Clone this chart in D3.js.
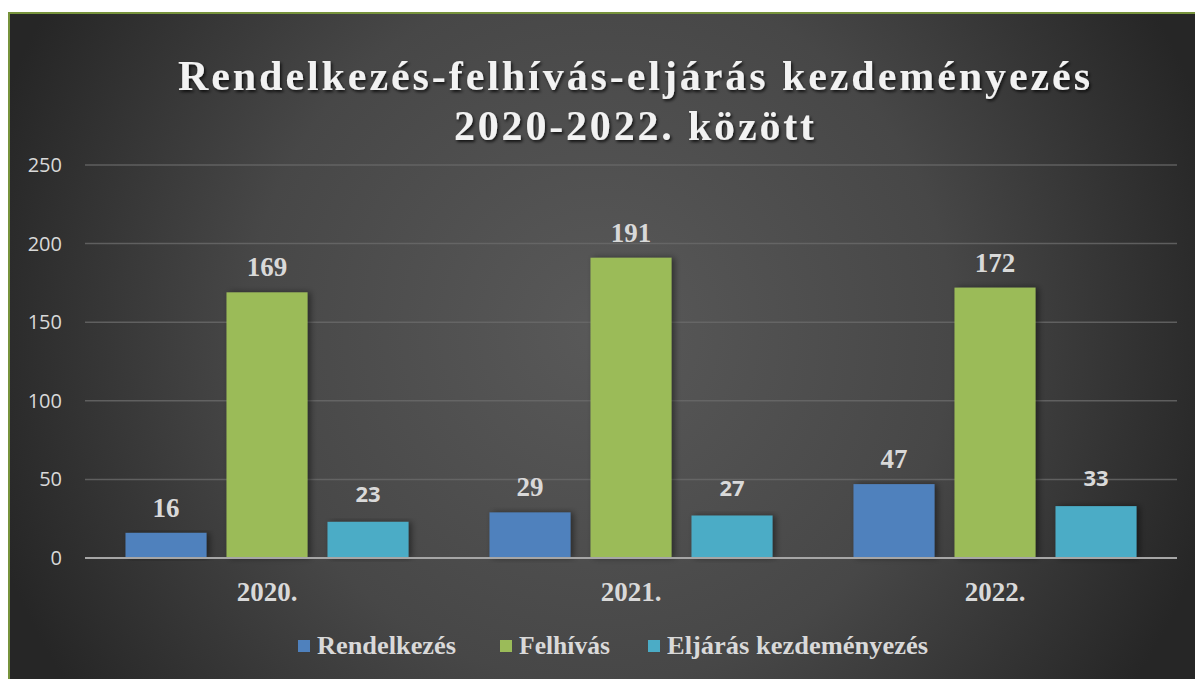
<!DOCTYPE html>
<html>
<head>
<meta charset="utf-8">
<script src="https://cdn.jsdelivr.net/npm/d3@7"></script>
<style>
  body { margin: 0; background: #fff; }
  svg { display: block; }
</style>
</head>
<body>
<div id="chart"></div>
<script>
'use strict'
var width = 1195;
var height = 679;

// data
var years = ["2020.", "2021.", "2022."];
var seriesNames = ["Rendelkezés", "Felhívás", "Eljárás kezdeményezés"];
var rendelkezes = [16, 29, 47];
var felhivas = [169, 191, 172];
var eljaras = [23, 27, 33];
var yTicks = [0, 50, 100, 150, 200, 250];
var titleLines = ["Rendelkezés-felhívás-eljárás kezdeményezés", "2020-2022. között"];

var colors = ["#4F81BD", "#9BBB59", "#4BACC6"];
var serif = "'Liberation Serif', 'Times New Roman', serif";
var sans = "'Open Sans', 'DejaVu Sans', sans-serif";

var svg = d3.select("#chart")
	.append("svg")
	.attr("width", width)
	.attr("height", height);

var defs = svg.append("defs");

var grad = defs.append("radialGradient")
	.attr("id", "bg")
	.attr("gradientUnits", "userSpaceOnUse")
	.attr("cx", 600).attr("cy", 330).attr("r", 640);
grad.append("stop").attr("offset", "0%").attr("stop-color", "#595959");
grad.append("stop").attr("offset", "55%").attr("stop-color", "#474747");
grad.append("stop").attr("offset", "100%").attr("stop-color", "#262626");

var tshadow = defs.append("filter").attr("id", "tshadow")
	.attr("x", "-10%").attr("y", "-20%").attr("width", "120%").attr("height", "150%");
tshadow.append("feDropShadow")
	.attr("dx", 1.5).attr("dy", 2).attr("stdDeviation", 1.5)
	.attr("flood-color", "#000").attr("flood-opacity", 0.75);

var bshadow = defs.append("filter").attr("id", "bshadow")
	.attr("x", "-20%").attr("y", "-10%").attr("width", "150%").attr("height", "120%");
bshadow.append("feDropShadow")
	.attr("dx", 3).attr("dy", 0).attr("stdDeviation", 3)
	.attr("flood-color", "#000").attr("flood-opacity", 0.45);

// background + green frame
svg.append("rect")
	.attr("x", 9).attr("y", 13)
	.attr("width", width + 10).attr("height", height + 10)
	.attr("fill", "url(#bg)")
	.attr("stroke", "#77933C")
	.attr("stroke-width", 2);

// scales
var y = d3.scaleLinear().domain([0, 250]).range([558, 165]);
var x0 = d3.scaleBand().domain(years).range([85, 1177]);
var x1 = d3.scaleBand().domain(seriesNames)
	.range([40.5, x0.bandwidth() - 40.5])
	.paddingInner(0.198);

// grid
svg.append("g")
	.selectAll("line")
	.data(yTicks.filter(function(d){ return d > 0; }))
	.enter()
	.append("line")
		.attr("x1", 85).attr("x2", 1177)
		.attr("y1", function(d){ return y(d); })
		.attr("y2", function(d){ return y(d); })
		.style("stroke", "#6a6a6a")
		.style("stroke-opacity", 0.8)
		.style("stroke-width", 1.5);

// y labels
var yAxis = svg.append("g")
	.attr("transform", "translate(85,0)")
	.call(d3.axisLeft(y).tickValues(yTicks).tickSize(0).tickPadding(23));
yAxis.select(".domain").remove();
yAxis.selectAll("text")
	.style("font-family", sans)
	.style("font-size", "20px")
	.style("fill", "#d9d9d9");

// bars
var rows = years.map(function(yr, i){
	return [
		{ year: yr, s: 0, v: rendelkezes[i] },
		{ year: yr, s: 1, v: felhivas[i] },
		{ year: yr, s: 2, v: eljaras[i] }
	];
});
var flat = [].concat.apply([], rows);

svg.append("g")
	.selectAll("rect")
	.data(flat)
	.enter()
	.append("rect")
		.attr("x", function(d){ return x0(d.year) + x1(seriesNames[d.s]); })
		.attr("y", function(d){ return y(d.v); })
		.attr("width", x1.bandwidth())
		.attr("height", function(d){ return y(0) - y(d.v); })
		.attr("fill", function(d){ return colors[d.s]; })
		.attr("filter", "url(#bshadow)");

// zero line
svg.append("line")
	.attr("x1", 85).attr("x2", 1177)
	.attr("y1", y(0)).attr("y2", y(0))
	.style("stroke", "#a6a6a6")
	.style("stroke-width", 2);

// value labels
svg.append("g")
	.selectAll("text")
	.data(flat)
	.enter()
	.append("text")
		.attr("x", function(d){ return x0(d.year) + x1(seriesNames[d.s]) + x1.bandwidth() / 2; })
		.attr("y", function(d){ return y(d.v) - (d.s === 2 ? 20 : 16); })
		.attr("text-anchor", "middle")
		.text(function(d){ return d.v; })
		.style("font-family", function(d){ return d.s === 2 ? sans : serif; })
		.style("font-weight", "bold")
		.style("font-size", function(d){ return d.s === 2 ? "22px" : "27px"; })
		.style("fill", "#d9d9d9");

// category labels
svg.append("g")
	.selectAll("text")
	.data(years)
	.enter()
	.append("text")
		.attr("x", function(d){ return x0(d) + x0.bandwidth() / 2; })
		.attr("y", 601)
		.attr("text-anchor", "middle")
		.text(function(d){ return d; })
		.style("font-family", serif)
		.style("font-weight", "bold")
		.style("font-size", "27px")
		.style("fill", "#d9d9d9");

// title
var titleLen = [912, 360];
var titleY = [90, 140];
svg.append("g")
	.selectAll("text")
	.data(titleLines)
	.enter()
	.append("text")
		.attr("x", 634)
		.attr("y", function(d, i){ return titleY[i]; })
		.attr("text-anchor", "middle")
		.attr("textLength", function(d, i){ return titleLen[i]; })
		.attr("lengthAdjust", "spacing")
		.text(function(d){ return d; })
		.attr("filter", "url(#tshadow)")
		.style("font-family", serif)
		.style("font-weight", "bold")
		.style("font-size", "42px")
		.style("fill", "#f2f2f2");

// legend
var legX = [298, 500, 648];
var legLen = [139, 91, 261];
var legend = svg.append("g")
	.selectAll("g")
	.data(seriesNames)
	.enter()
	.append("g")
		.attr("transform", function(d, i){ return "translate(" + legX[i] + ",0)"; });
legend.append("rect")
	.attr("x", 0).attr("y", 640)
	.attr("width", 12).attr("height", 12)
	.attr("fill", function(d, i){ return colors[i]; });
legend.append("text")
	.attr("x", 19)
	.attr("y", 654)
	.attr("textLength", function(d, i){ return legLen[i]; })
	.attr("lengthAdjust", "spacingAndGlyphs")
	.text(function(d){ return d; })
	.style("font-family", serif)
	.style("font-weight", "bold")
	.style("font-size", "25px")
	.style("fill", "#d9d9d9");
</script>
</body>
</html>
